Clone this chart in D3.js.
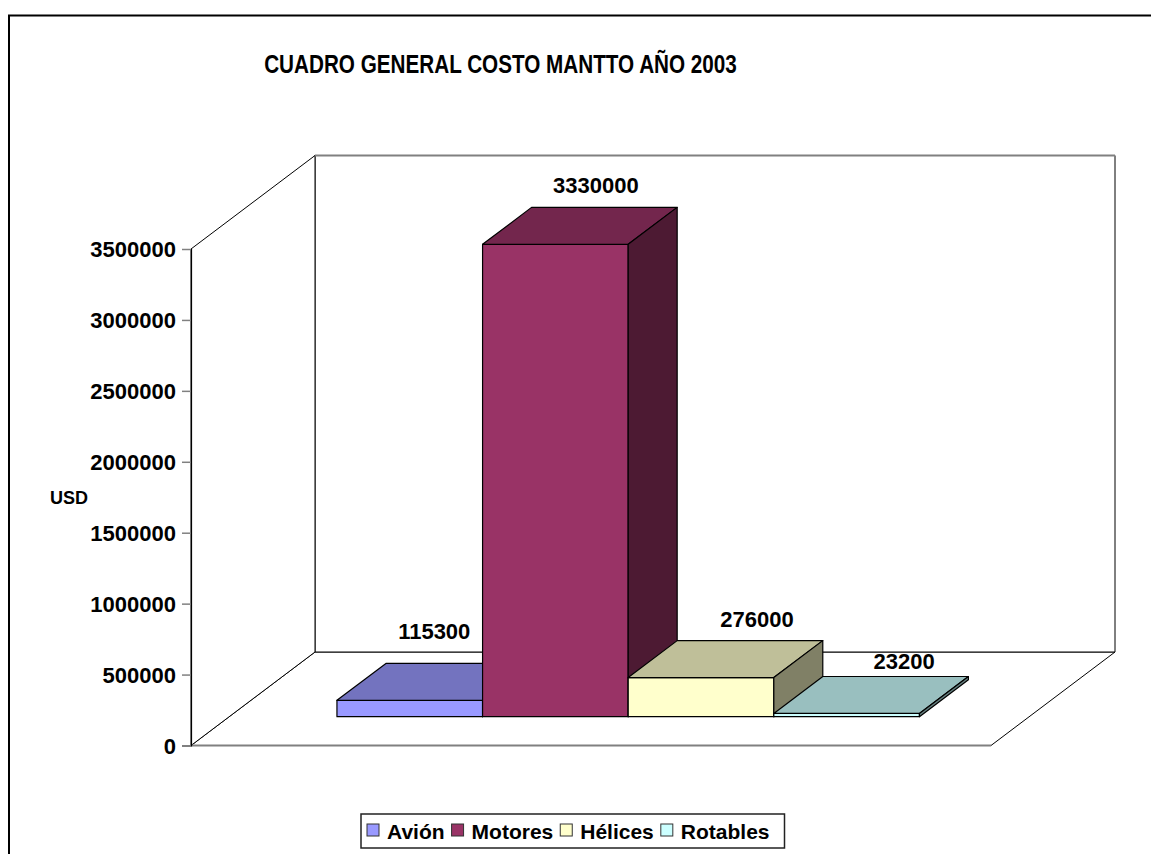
<!DOCTYPE html>
<html>
<head>
<meta charset="utf-8">
<script src="https://cdn.jsdelivr.net/npm/d3@7"></script>
<style>
  html, body { margin: 0; padding: 0; background: #fff; }
  svg { display: block; }
  text { font-family: "Liberation Sans", Arial, sans-serif; font-weight: bold; fill: #000; }
</style>
</head>
<body>
<svg id="chart" width="1151" height="854"></svg>
<script>
// Maintenance cost by area, 2003 (USD)
const categories = ["Avión", "Motores", "Hélices", "Rotables"];
const values = [115300, 3330000, 276000, 23200];
const frontColors = ["#9999FF", "#993366", "#FFFFCC", "#CCFFFF"];
const yTicks = [0, 500000, 1000000, 1500000, 2000000, 2500000, 3000000, 3500000];
const titleText = "CUADRO GENERAL COSTO MANTTO AÑO 2003";
const axisTitle = "USD";
// hand-placed offsets of each data label from the centre of its bar's top face
const labelNudges = [[0, -51], [16, -41], [31.5, -40.5], [33, -34]];

const svg = d3.select("#chart");

// 3D box geometry: front plane origin, floor width, depth projection
const X0 = 191, FLOOR_W = 800;
const DX = 124, DY = 93.5;
const D0 = 0.308, D1 = 0.703;   // bar depth span (fraction of the floor depth)

const y = d3.scaleLinear().domain([0, 3500000]).range([745.5, 249]);
const x = d3.scaleBand().domain(categories).range([0, 798]).paddingInner(0).paddingOuter(0.74);

const P = (px, v, d) => [X0 + px + d * DX, y(v) - d * DY];
const poly = pts => pts.map(p => p.join(",")).join(" ");

// outer chart frame
svg.append("rect").attr("x", 9).attr("y", 15.5).attr("width", 1160).attr("height", 870)
  .attr("fill", "none").attr("stroke", "#000").attr("stroke-width", 2);

// title
svg.append("text")
  .attr("transform", "translate(500.5,73.3) scale(1,1.24)")
  .attr("text-anchor", "middle").attr("font-size", 20.7)
  .text(titleText);

// walls and floor
const vMax = y.domain()[1];
const g = svg.append("g");
// floor
g.append("polygon")
  .attr("points", poly([P(0, 0, 0), P(FLOOR_W, 0, 0), P(FLOOR_W, 0, 1), P(0, 0, 1)]))
  .attr("fill", "#fff").attr("stroke", "#000").attr("stroke-width", 1);
// back wall
g.append("polygon")
  .attr("points", poly([P(0, 0, 1), P(FLOOR_W, 0, 1), P(FLOOR_W, vMax, 1), P(0, vMax, 1)]))
  .attr("fill", "#fff").attr("stroke", "#000").attr("stroke-width", 1);
// left wall
g.append("polygon")
  .attr("points", poly([P(0, 0, 0), P(0, 0, 1), P(0, vMax, 1), P(0, vMax, 0)]))
  .attr("fill", "#fff").attr("stroke", "#000").attr("stroke-width", 1);
// lighter top edge of back wall and front edge of floor
g.append("line")
  .attr("x1", P(0, vMax, 1)[0]).attr("y1", P(0, vMax, 1)[1])
  .attr("x2", P(FLOOR_W, vMax, 1)[0]).attr("y2", P(FLOOR_W, vMax, 1)[1])
  .attr("stroke", "#808080").attr("stroke-width", 2);
g.append("line")
  .attr("x1", P(0, 0, 0)[0]).attr("y1", P(0, 0, 0)[1])
  .attr("x2", P(FLOOR_W, 0, 0)[0]).attr("y2", P(FLOOR_W, 0, 0)[1])
  .attr("stroke", "#808080").attr("stroke-width", 2);

// value axis on the front-left edge
const axis = svg.append("g").attr("transform", `translate(${X0},0)`)
  .call(d3.axisLeft(y).tickValues(yTicks).tickSize(9).tickPadding(6).tickFormat(d3.format("d")));
axis.select(".domain").attr("stroke", "#000").attr("stroke-width", 1.2);
axis.selectAll(".tick line").attr("stroke", "#808080").attr("stroke-width", 1.5);
axis.selectAll(".tick text")
  .attr("font-family", "Liberation Sans, Arial, sans-serif")
  .attr("font-weight", "bold").attr("font-size", 22).attr("fill", "#000")
  .attr("dy", "0.36em");

svg.append("text").attr("x", 50).attr("y", 504).attr("font-size", 18).text(axisTitle);

// bars: front, top and right-side faces, drawn left to right
const shade = (c, k) => { const r = d3.rgb(c); return d3.rgb(r.r * k, r.g * k, r.b * k).formatHex(); };
const bars = svg.append("g");
categories.forEach((cat, i) => {
  const v = values[i];
  const xl = x(cat), xr = x(cat) + x.bandwidth();
  const b = bars.append("g").attr("stroke", "#000").attr("stroke-width", 1.2).attr("stroke-linejoin", "round");
  b.append("polygon").attr("fill", frontColors[i])
    .attr("points", poly([P(xl, 0, D0), P(xr, 0, D0), P(xr, v, D0), P(xl, v, D0)]));
  b.append("polygon").attr("fill", shade(frontColors[i], 0.75))
    .attr("points", poly([P(xl, v, D0), P(xr, v, D0), P(xr, v, D1), P(xl, v, D1)]));
  b.append("polygon").attr("fill", shade(frontColors[i], 0.5))
    .attr("points", poly([P(xr, 0, D0), P(xr, 0, D1), P(xr, v, D1), P(xr, v, D0)]));
});

// data labels
const dm = (D0 + D1) / 2;
svg.append("g").selectAll("text").data(categories).join("text")
  .attr("text-anchor", "middle").attr("font-size", 22)
  .attr("x", (c, i) => P(x(c) + x.bandwidth() / 2, values[i], dm)[0] + labelNudges[i][0])
  .attr("y", (c, i) => P(x(c) + x.bandwidth() / 2, values[i], dm)[1] + labelNudges[i][1] + 8)
  .text((c, i) => d3.format("d")(values[i]));

// legend
const leg = svg.append("g");
const legBox = leg.append("rect").attr("x", 361).attr("y", 814).attr("height", 34)
  .attr("fill", "#fff").attr("stroke", "#222").attr("stroke-width", 1.5);
let lx = 367;
categories.forEach((cat, i) => {
  leg.append("rect").attr("x", lx).attr("y", 824).attr("width", 12).attr("height", 12)
    .attr("fill", frontColors[i]).attr("stroke", "#333").attr("stroke-width", 1);
  const t = leg.append("text").attr("x", lx + 20).attr("y", 839).attr("font-size", 21).text(cat);
  lx += 20 + t.node().getComputedTextLength() + 7;
});
legBox.attr("width", lx - 361 + 8);
</script>
</body>
</html>
